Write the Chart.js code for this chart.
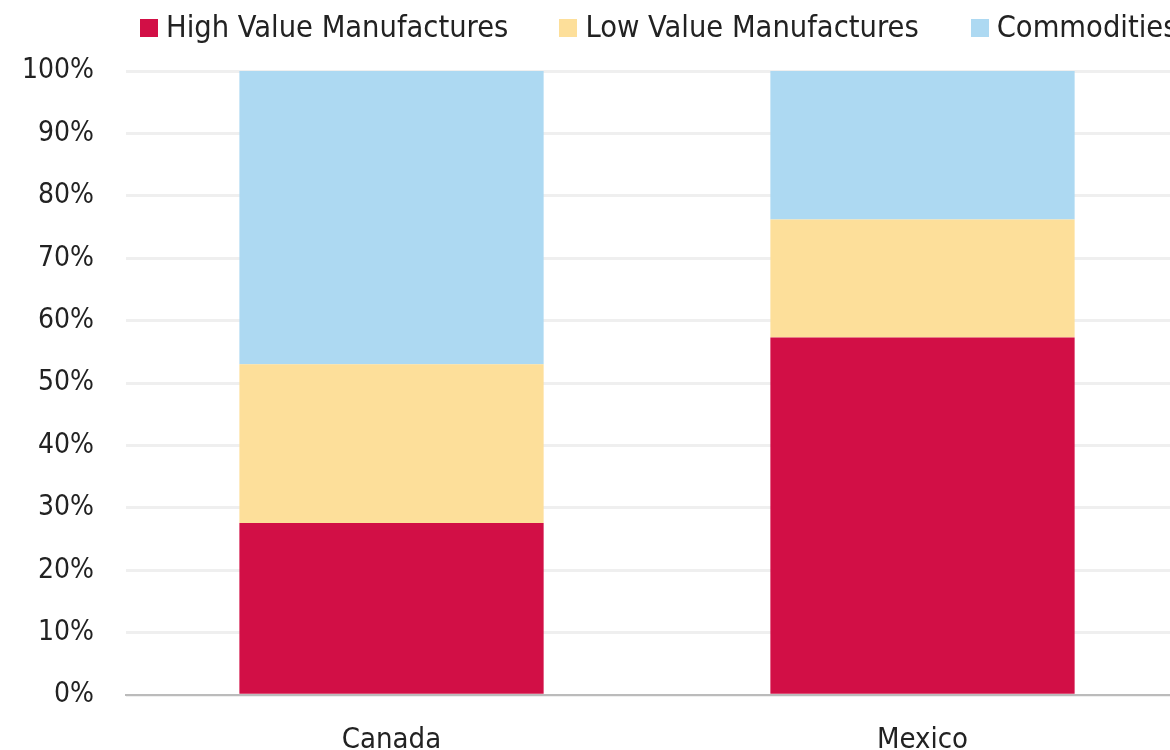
<!DOCTYPE html>
<html>
<head>
<meta charset="utf-8">
<script src="https://cdn.jsdelivr.net/npm/chart.js@4"></script>
<style>
  html, body { margin: 0; padding: 0; background: #fff; overflow: hidden; }
  #page { position: relative; width: 1170px; height: 750px; overflow: hidden; }
  #wrap { position: absolute; left: -25px; top: 0; width: 1225px; height: 778px; }
  #legend {
    position: absolute; left: 140px; top: 8px; z-index: 2;
    display: flex; white-space: nowrap;
    font-family: 'Liberation Sans Narrow', 'DejaVu Sans Condensed', sans-serif;
    font-size: 30.5px; color: #222; line-height: 38px;
  }
  #legend .item { display: flex; align-items: center; }
  #legend .box { width: 18px; height: 18px; margin-right: 8px; margin-top: 2px; }
</style>
</head>
<body>
<div id="page">
  <div id="legend"></div>
  <div id="wrap"><canvas id="exportChart"></canvas></div>
</div>
<script>
  const countries = ["Canada", "Mexico"];
  const seriesNames = ["High Value Manufactures", "Low Value Manufactures", "Commodities"];
  const highValue = [27.6, 57.3];
  const lowValue = [25.4, 18.9];
  const commodities = [47.0, 23.8];
  const colors = ["#D20F46", "#FDDF9A", "#ADD9F2"];

  const font = "'Liberation Sans Narrow', 'DejaVu Sans Condensed', sans-serif";

  const chart = new Chart(document.getElementById("exportChart"), {
    type: "bar",
    data: {
      labels: countries,
      datasets: [
        { label: seriesNames[0], data: highValue, backgroundColor: colors[0] },
        { label: seriesNames[1], data: lowValue, backgroundColor: colors[1] },
        { label: seriesNames[2], data: commodities, backgroundColor: colors[2] },
      ],
    },
    options: {
      responsive: true,
      maintainAspectRatio: false,
      animation: false,
      layout: { padding: { top: 71, right: 12, bottom: 0, left: 15 } },
      datasets: { bar: { categoryPercentage: 1, barPercentage: 0.573 } },
      scales: {
        x: {
          stacked: true,
          grid: { display: false },
          border: { color: "#bbbbbb", width: 2 },
          ticks: { color: "#222", font: { family: font, size: 29 }, padding: 20 },
        },
        y: {
          stacked: true,
          min: 0,
          max: 100,
          ticks: {
            stepSize: 10,
            color: "#222",
            padding: 32,
            font: { family: font, size: 28 },
            callback: (v) => v + "%",
          },
          grid: { color: "#efefef", lineWidth: 3, drawTicks: false },
          border: { display: false },
        },
      },
      plugins: {
        legend: { display: false },
        tooltip: { enabled: false },
      },
    },
  });

  // legend built from the chart's own datasets
  const legendEl = document.getElementById("legend");
  const gaps = [51, 52, 0];
  chart.data.datasets.forEach((ds, i) => {
    const item = document.createElement("div");
    item.className = "item";
    item.style.marginRight = gaps[i] + "px";
    const box = document.createElement("span");
    box.className = "box";
    box.style.background = ds.backgroundColor;
    const txt = document.createElement("span");
    txt.textContent = ds.label;
    item.appendChild(box);
    item.appendChild(txt);
    legendEl.appendChild(item);
  });
</script>
</body>
</html>
